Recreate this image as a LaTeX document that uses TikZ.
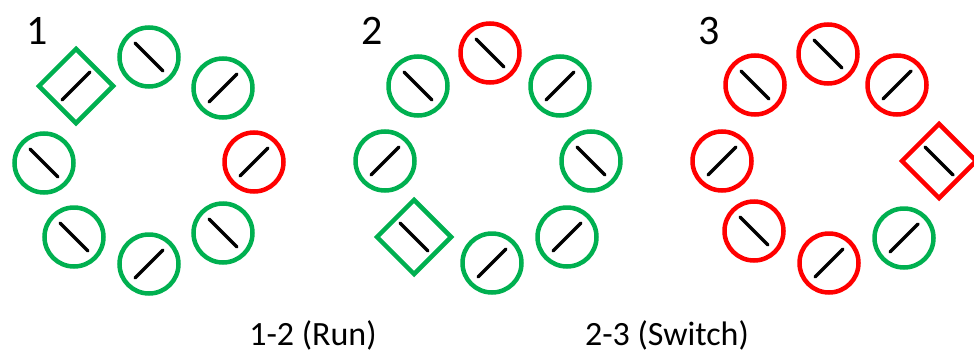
\documentclass[tikz,border=0pt]{standalone}
\usepackage{fontspec}
\setmainfont{Carlito}
\usepackage{tikz}
\usetikzlibrary{shapes.geometric}
\usepackage{xcolor}
\definecolor{swgreen}{HTML}{00B050}
\definecolor{swred}{HTML}{FF0000}

\begin{document}
\begin{tikzpicture}[
    x=1pt, y=-1pt,
    dial/.style={
        circle,
        draw=#1,
        line width=4.5pt,
        minimum size=59pt,
        inner sep=0pt
    },
    gate/.style={
        diamond,
        draw=#1,
        line width=4.5pt,
        minimum size=76pt,
        inner sep=0pt
    },
    rise/.style={
        path picture={\draw[black, line width=3.5pt, line cap=round]
            ([shift={(-14pt,-14pt)}]path picture bounding box.center) --
            ([shift={(14pt,14pt)}]path picture bounding box.center);}
    },
    fall/.style={
        path picture={\draw[black, line width=3.5pt, line cap=round]
            ([shift={(-14pt,14pt)}]path picture bounding box.center) --
            ([shift={(14pt,-14pt)}]path picture bounding box.center);}
    },
    tag/.style={
        font=\fontsize{42}{42}\selectfont,
        anchor=base
    },
    note/.style={
        font=\fontsize{34}{34}\selectfont,
        anchor=base
    }
]

\useasboundingbox (0,0) rectangle (974,356);

% Panel 1
\node[tag] (num1) at (37,44) {1};
\node[dial=swgreen, fall] (r1-n) at (149,57) {};
\node[dial=swgreen, rise] (r1-ne) at (223,88) {};
\node[dial=swred, rise] (r1-e) at (254,162) {};
\node[dial=swgreen, fall] (r1-se) at (223,233) {};
\node[dial=swgreen, rise] (r1-s) at (149,264) {};
\node[dial=swgreen, fall] (r1-sw) at (74,237) {};
\node[dial=swgreen, fall] (r1-w) at (44,163) {};
\node[gate=swgreen, rise] (r1-nw) at (76,86) {};

% Panel 2
\node[tag] (num2) at (372,44) {2};
\node[dial=swred, fall] (r2-n) at (490,53) {};
\node[dial=swgreen, rise] (r2-ne) at (560,86) {};
\node[dial=swgreen, fall] (r2-e) at (591,161) {};
\node[dial=swgreen, rise] (r2-se) at (567,237) {};
\node[dial=swgreen, rise] (r2-s) at (492,263) {};
\node[gate=swgreen, fall] (r2-sw) at (414,237) {};
\node[dial=swgreen, rise] (r2-w) at (385,161) {};
\node[dial=swgreen, fall] (r2-nw) at (418,86) {};

% Panel 3
\node[tag] (num3) at (709,44) {3};
\node[dial=swred, fall] (r3-n) at (828,54) {};
\node[dial=swred, rise] (r3-ne) at (897,85) {};
\node[gate=swred, fall] (r3-e) at (939,161) {};
\node[dial=swgreen, rise] (r3-se) at (904,238) {};
\node[dial=swred, rise] (r3-s) at (829,263) {};
\node[dial=swred, fall] (r3-sw) at (754,231) {};
\node[dial=swred, rise] (r3-w) at (722,161) {};
\node[dial=swred, fall] (r3-nw) at (755,85) {};

% Captions
\node[note] (run) at (313,345) {1-2 (Run)};
\node[note] (switch) at (667,345) {2-3 (Switch)};

\end{tikzpicture}
\end{document}
